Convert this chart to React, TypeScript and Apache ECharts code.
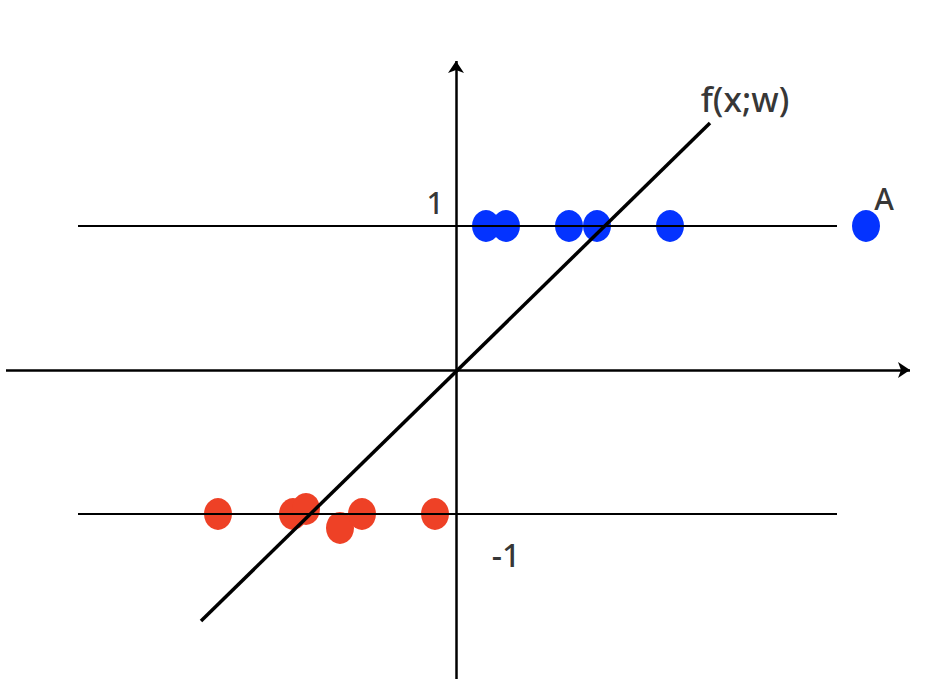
import React, { useEffect, useRef } from "react";
import * as echarts from "echarts";

// Data (x units: 1 = 100px, y units: 1 = 144px; origin at center of axes)
const blueX = [0.3, 0.5, 1.13, 1.41, 2.14, 4.1];
const blueY = [1, 1, 1, 1, 1, 1];
const redX = [-2.38, -1.63, -1.5, -1.16, -0.94, -0.21];
const redY = [-1, -1, -0.965, -1.097, -1, -1];
const levelY = [1, -1];
const levelXStart = -3.78;
const levelXEnd = 3.81;
const fxStart = [-2.55, -1.743];
const fxEnd = [2.54, 1.715];
const xAxisSpan = [-4.5, 4.54];
const yAxisSpan = [-2.146, 2.146];
const labelTexts = ["1", "-1", "f(x;w)", "A"];
const labelX = [-0.21, 0.5, 2.89, 4.28];
const labelY = [1.16, -1.28, 1.88, 1.19];

const labelFontSizes = [30, 32, 34, 30];

export default function App() {
  const ref = useRef<HTMLDivElement>(null);
  useEffect(() => {
    if (!ref.current) return;
    const chart = echarts.init(ref.current, undefined, { renderer: "svg" });
    const black = "#000000";
    const originPx = 370;
    chart.setOption({
      animation: false,
      backgroundColor: "#ffffff",
      grid: { left: 0, right: 0, top: 0, bottom: 0 },
      xAxis: { type: "value", min: -4.56, max: 4.8, show: false },
      yAxis: { type: "value", min: -(692 - originPx) / 144, max: originPx / 144, show: false },
      series: [
        {
          type: "scatter",
          z: 2,
          symbol: "circle",
          symbolSize: [28, 32],
          itemStyle: { color: "#0433ff", opacity: 1 },
          data: blueX.map((x, i) => [x, blueY[i]]),
        },
        {
          type: "scatter",
          z: 2,
          symbol: "circle",
          symbolSize: [28, 32],
          itemStyle: { color: "#ee4126", opacity: 1 },
          data: redX.map((x, i) => [x, redY[i]]),
        },
        ...levelY.map((y) => ({
          type: "line",
          z: 5,
          symbol: "none",
          silent: true,
          lineStyle: { color: black, width: 2 },
          data: [
            [levelXStart, y],
            [levelXEnd, y],
          ],
        })),
        {
          type: "line",
          z: 6,
          symbol: "none",
          silent: true,
          lineStyle: { color: black, width: 3.5 },
          data: [fxStart, fxEnd],
        },
        {
          type: "lines",
          coordinateSystem: "cartesian2d",
          z: 6,
          silent: true,
          symbol: ["none", "arrow"],
          symbolSize: 12,
          lineStyle: { color: black, width: 2.5, opacity: 1 },
          data: [
            { coords: [[xAxisSpan[0], 0], [xAxisSpan[1], 0]] },
            { coords: [[0, yAxisSpan[0]], [0, yAxisSpan[1]]] },
          ],
        },
        {
          type: "scatter",
          z: 7,
          symbolSize: 0,
          silent: true,
          data: labelTexts.map((t, i) => ({
            value: [labelX[i], labelY[i]],
            name: t,
            label: { fontSize: labelFontSizes[i] },
          })),
          label: {
            show: true,
            position: "inside",
            formatter: (p: any) => p.name,
            color: black,
            fontFamily: "Noto Sans",
            fontWeight: 500,
            fontSize: 30,
          },
        },
      ],
    });
    return () => chart.dispose();
  }, []);
  return (
    <div
      ref={ref}
      style={{ position: "fixed", left: 0, top: 0, width: 936, height: 692 }}
    />
  );
}
